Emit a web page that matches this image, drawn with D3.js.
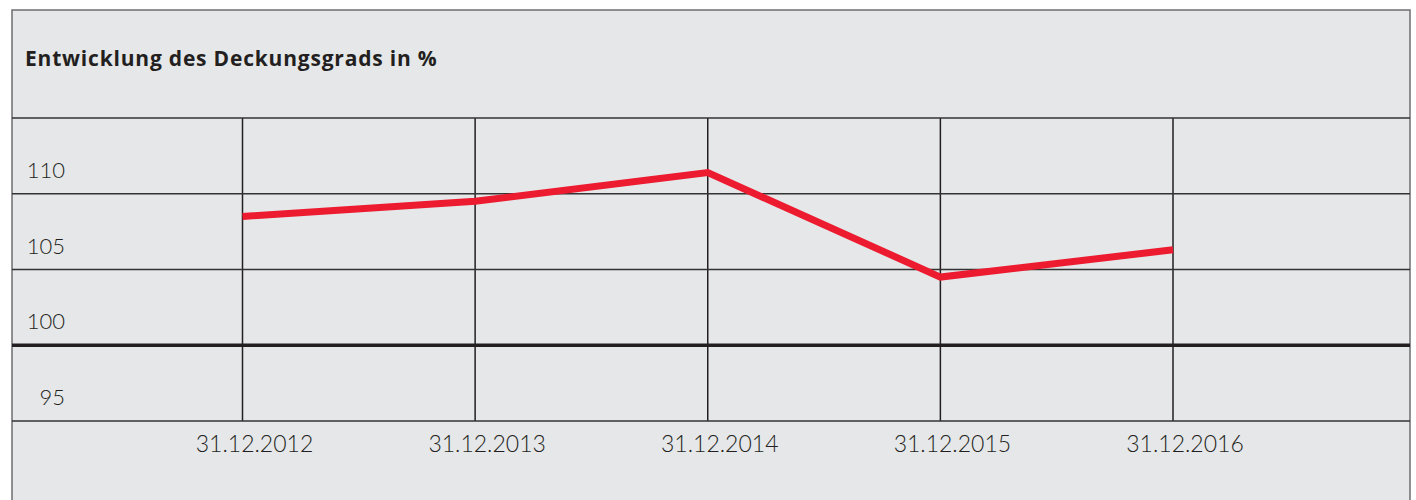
<!DOCTYPE html>
<html>
<head>
<meta charset="utf-8">
<script src="https://cdn.jsdelivr.net/npm/d3@7"></script>
<style>
  body { margin: 0; background: #fff; }
  svg text { font-family: Lato, "Open Sans", sans-serif; fill: #231f20; }
</style>
</head>
<body>
<div id="chart"></div>
<script>
// chart data
var dates = ['31.12.2012', '31.12.2013', '31.12.2014', '31.12.2015', '31.12.2016']
var values = [108.5, 109.5, 111.4, 104.5, 106.3]
var yTicks = [95, 100, 105, 110]
var title = 'Entwicklung des Deckungsgrads in %'

var width = 1416
var height = 500
var box = { left: 12, right: 1410, top: 10, bottom: 500 }

var svg = d3
  .select('#chart')
  .append('svg')
  .attr('width', width)
  .attr('height', height)

// background panel
svg
  .append('rect')
  .attr('x', box.left)
  .attr('y', box.top)
  .attr('width', box.right - box.left)
  .attr('height', box.bottom - box.top + 2)
  .attr('fill', '#e6e7e9')
  .attr('stroke', '#6d6e70')
  .attr('stroke-width', 1.5)

svg
  .append('text')
  .attr('x', 25)
  .attr('y', 66)
  .attr('font-size', 21)
  .attr('font-weight', 'bold')
  .attr('letter-spacing', 0.8)
  .style('font-family', '"Open Sans", sans-serif')
  .text(title)

// scales
var x = d3.scalePoint().domain(dates).range([242.5, 1173])
var y = d3.scaleLinear().domain([95, 115]).range([421, 118])

// vertical grid lines
svg
  .append('g')
  .selectAll('line')
  .data(dates)
  .enter()
  .append('line')
  .attr('x1', d => x(d))
  .attr('x2', d => x(d))
  .attr('y1', y(115))
  .attr('y2', y(95))
  .attr('stroke', '#231f20')
  .attr('stroke-width', 1.5)

// horizontal grid lines
svg
  .append('g')
  .selectAll('line')
  .data([95, 100, 105, 110, 115])
  .enter()
  .append('line')
  .attr('x1', box.left)
  .attr('x2', box.right)
  .attr('y1', d => y(d))
  .attr('y2', d => y(d))
  .attr('stroke', d => (d === 100 ? '#231f20' : '#333'))
  .attr('stroke-width', d => (d === 100 ? 3.5 : 1.5))

// y tick labels sit above their line
svg
  .append('g')
  .selectAll('text')
  .data(yTicks)
  .enter()
  .append('text')
  .attr('x', 65)
  .attr('y', d => y(d) - 16)
  .attr('text-anchor', 'end')
  .attr('font-size', 22)
  .attr('font-weight', 300)
  .text(d => d)

// x labels
svg
  .append('g')
  .selectAll('text')
  .data(dates)
  .enter()
  .append('text')
  .attr('x', d => x(d) + 12)
  .attr('y', 452)
  .attr('text-anchor', 'middle')
  .attr('font-size', 23)
  .attr('font-weight', 300)
  .text(d => d)

// the red line
var line = d3
  .line()
  .x((d, i) => x(dates[i]))
  .y(d => y(d))

svg
  .append('path')
  .datum(values)
  .attr('d', line)
  .attr('fill', 'none')
  .attr('stroke', '#ed1b2f')
  .attr('stroke-width', 7)
  .attr('stroke-linejoin', 'miter')
</script>
</body>
</html>
